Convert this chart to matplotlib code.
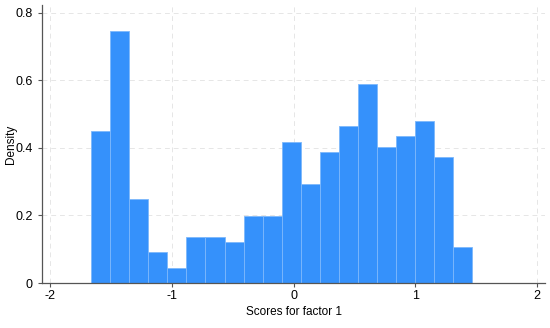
import numpy as np
import matplotlib.pyplot as plt

# histogram of factor scores
bin_edges = np.linspace(-1.666, 1.471, 21)
density = [0.450, 0.747, 0.248, 0.091, 0.044, 0.137, 0.137, 0.122, 0.199, 0.199,
           0.418, 0.294, 0.388, 0.466, 0.590, 0.403, 0.434, 0.481, 0.372, 0.107]
x_ticks = [-2, -1, 0, 1, 2]
y_ticks = [0, 0.2, 0.4, 0.6, 0.8]

plt.rcParams['font.family'] = ['Liberation Sans', 'DejaVu Sans']

fig = plt.figure(figsize=(5.5, 3.28), dpi=100)
ax = fig.add_axes([0.077, 0.137, 0.914, 0.848])

ax.hist(bin_edges[:-1], bins=bin_edges, weights=density,
        color="#3591fb", edgecolor="#7db8fb", linewidth=0.6, zorder=2)

ax.set_xlim(-2.066, 2.068)
ax.set_ylim(0, 0.823)
ax.set_xticks(x_ticks)
ax.set_xticklabels([str(t) for t in x_ticks])
ax.set_yticks(y_ticks)
ax.set_yticklabels(["0", "0.2", "0.4", "0.6", "0.8"])
ax.grid(True, linestyle=(0, (5, 4)), color="#e6e6e6", linewidth=0.7, zorder=0)

for side in ["top", "right"]:
    ax.spines[side].set_visible(False)
for side in ["left", "bottom"]:
    ax.spines[side].set_color("#555555")
    ax.spines[side].set_linewidth(0.9)

ax.tick_params(labelsize=9, length=3, width=0.8, color="#555555")
ax.tick_params(axis="y", pad=4)
ax.tick_params(axis="x", pad=2)
ax.set_xlabel("Scores for factor 1", fontsize=8.5, labelpad=3)
ax.set_ylabel("Density", fontsize=8.5)
ax.yaxis.set_label_coords(-0.051, 0.5)

plt.savefig("out.png", dpi=100)
